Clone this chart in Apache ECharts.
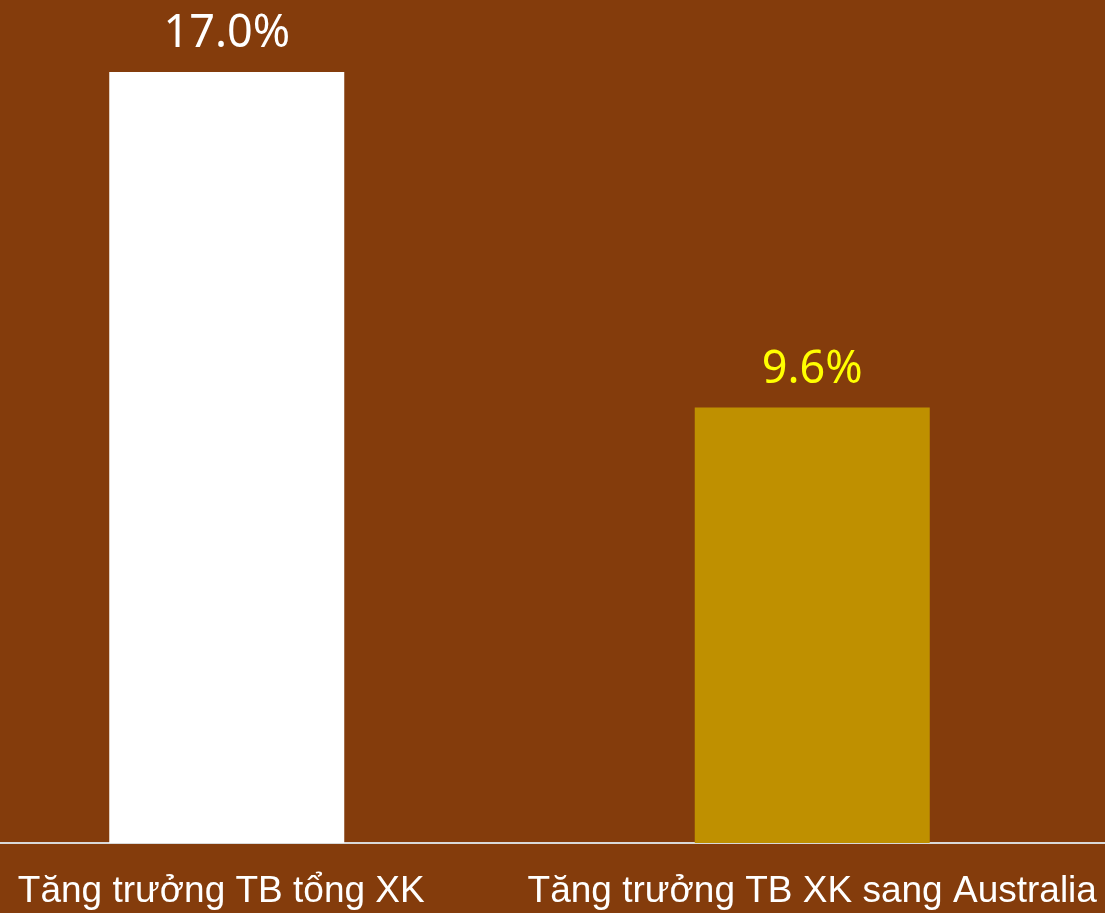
<!DOCTYPE html>
<html><head><meta charset="utf-8">
<style>html,body{margin:0;padding:0;background:#843C0C;}#c{width:1105px;height:913px;}</style>
<script src="https://cdn.jsdelivr.net/npm/echarts@6/dist/echarts.min.js"></script>
</head><body><div id="c"></div>
<script>
const categories = ['Tăng trưởng TB tổng XK', 'Tăng trưởng TB XK sang Australia'];
const values = [17.0, 9.6];
const barColors = ['#FFFFFF', '#BF9000'];
const labelColors = ['#FFFFFF', '#FFFF00'];

const chart = echarts.init(document.getElementById('c'));
chart.setOption({
  backgroundColor: '#843C0C',
  animation: false,
  grid: { left: -66, right: 0, top: 0, bottom: 70, containLabel: false, outerBoundsMode: 'none' },
  xAxis: {
    type: 'category',
    data: categories.map((c, i) => i === 0 ? { value: c, textStyle: { padding: [0, 11, 0, 0] } } : c),
    axisLine: { show: true, lineStyle: { color: '#D9D9D9', width: 2 } },
    axisTick: { show: false },
    axisLabel: { color: '#FFFFFF', fontFamily: 'Liberation Sans', fontSize: 37, margin: 30, interval: 0, hideOverlap: false }
  },
  yAxis: { type: 'value', min: 0, max: 18.587, show: false, splitLine: { show: false } },
  series: [{
    type: 'bar',
    barWidth: 235,
    data: values.map((v, i) => ({
      value: v,
      itemStyle: { color: barColors[i] },
      label: { color: labelColors[i] }
    })),
    label: {
      show: true, position: 'top', distance: 15,
      fontFamily: 'Noto Sans', fontSize: 45,
      formatter: p => p.value.toFixed(1) + '%'
    }
  }]
});
</script></body></html>
